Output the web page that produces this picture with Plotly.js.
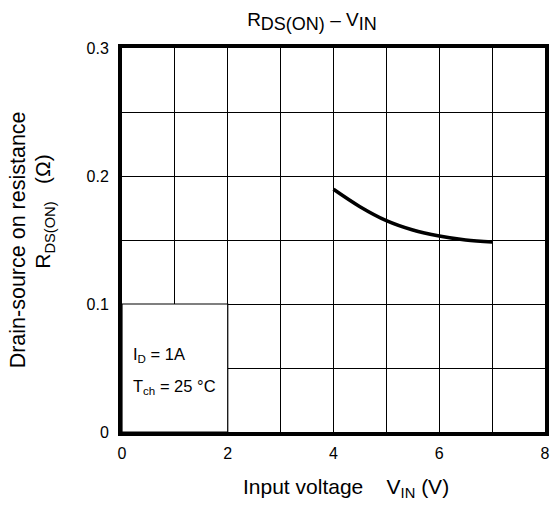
<!DOCTYPE html>
<html>
<head>
<meta charset="utf-8">
<script src="https://cdn.plot.ly/plotly-3.0.1.min.js"></script>
<style>html,body{margin:0;padding:0;background:#fff;}#chart{width:555px;height:508px;}</style>
</head>
<body>
<div id="chart"></div>
<script>
const vin = [4, 4.5, 5, 5.5, 6, 6.5, 7];
const rds = [0.1896, 0.1760, 0.1651, 0.1578, 0.1531, 0.1500, 0.1484];
const xTickVals = [0, 1, 2, 3, 4, 5, 6, 7, 8];
const xTickText = ['0', '', '2', '', '4', '', '6', '', '8'];
const yTickVals = [0, 0.05, 0.1, 0.15, 0.2, 0.25, 0.3];
const yTickText = ['0', '', '0.1', '', '0.2', '', '0.3'];
const conditions = ['I<sub>D</sub> = 1A', 'T<sub>ch</sub> = 25 °C'];

const font = {family: 'Liberation Sans, Arial, sans-serif', color: '#000'};
const f = s => Object.assign({size: s}, font);

const data = [{
  x: vin, y: rds, type: 'scatter', mode: 'lines',
  line: {color: '#000', width: 3.5, shape: 'spline', smoothing: 1},
  hoverinfo: 'skip'
}];

const layout = {
  width: 555, height: 508,
  margin: {l: 122, r: 10, t: 48, b: 76},
  paper_bgcolor: '#fff', plot_bgcolor: '#fff',
  showlegend: false,
  font: f(16),
  title: {text: 'R<sub><span style="font-size:18px">DS(ON)</span></sub> – V<sub><span style="font-size:18px">IN</span></sub>',
          x: 0.562, xanchor: 'center', y: 0.962, yanchor: 'middle', font: f(19)},
  xaxis: {
    range: [0, 8], tickvals: xTickVals, ticktext: xTickText, ticks: '',
    showgrid: true, gridcolor: '#000', gridwidth: 1, zeroline: false,
    showline: true, linecolor: '#000', linewidth: 4, mirror: true,
    tickfont: f(16), ticklabelstandoff: 4
  },
  yaxis: {
    range: [0, 0.3], tickvals: yTickVals, ticktext: yTickText, ticks: '',
    showgrid: true, gridcolor: '#000', gridwidth: 1, zeroline: false,
    showline: true, linecolor: '#000', linewidth: 4, mirror: true,
    tickfont: f(16), ticklabelstandoff: 6
  },
  shapes: [{
    type: 'rect', xref: 'x', yref: 'y', x0: 0, x1: 2, y0: 0, y1: 0.1,
    fillcolor: '#fff', line: {color: '#000', width: 1.2}, layer: 'between'
  }],
  annotations: [
    {xref: 'x', yref: 'y', x: 0.17, y: 0.06, xanchor: 'left', yanchor: 'middle', showarrow: false,
     text: conditions[0], font: f(16.5)},
    {xref: 'x', yref: 'y', x: 0.17, y: 0.035, xanchor: 'left', yanchor: 'middle', showarrow: false,
     text: conditions[1], font: f(16.5)},
    {xref: 'paper', yref: 'paper', x: 0.5296, y: -0.146, xanchor: 'center', yanchor: 'middle', showarrow: false,
     text: 'Input voltage    V<sub>IN</sub> (V)', font: f(21)},
    {xref: 'paper', yref: 'paper', x: -0.245, y: 0.5, xanchor: 'center', yanchor: 'middle', showarrow: false,
     textangle: -90, text: 'Drain-source on resistance', font: f(21.5)},
    {xref: 'paper', yref: 'paper', x: -0.183, y: 0.575, xanchor: 'center', yanchor: 'middle', showarrow: false,
     textangle: -90, text: 'R<sub>DS(ON)</sub>   (Ω)', font: f(21)}
  ]
};

Plotly.newPlot('chart', data, layout, {displayModeBar: false, staticPlot: true});
</script>
</body>
</html>
